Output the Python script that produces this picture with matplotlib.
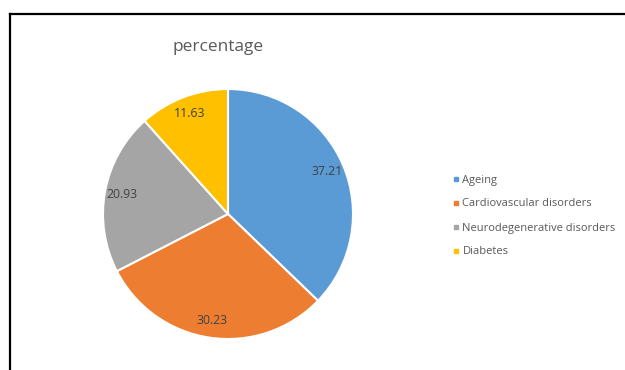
import matplotlib
matplotlib.use('Agg')
import numpy as np
import matplotlib.pyplot as plt
from matplotlib.lines import Line2D

categories = ['Ageing', 'Cardiovascular disorders',
              'Neurodegenerative disorders', 'Diabetes']
values = [37.21, 30.23, 20.93, 11.63]
colors = ['#5B9BD5', '#ED7D31', '#A5A5A5', '#FFC000']

plt.rcParams['font.family'] = ['Open Sans', 'DejaVu Sans']

dpi = 100.0
fig = plt.figure(figsize=(625 / dpi, 370 / dpi), dpi=dpi)

# frame line along the top and left of the chart area
fig.add_artist(Line2D([10 / 625, 1.0], [1 - 14 / 370, 1 - 14 / 370],
                      color='black', lw=1.6))
fig.add_artist(Line2D([10 / 625, 10 / 625], [0.0, 1 - 14 / 370],
                      color='black', lw=1.6))

ax = fig.add_axes([103 / 625, 31 / 370, 250 / 625, 250 / 370])
wedges, _ = ax.pie(values, colors=colors, startangle=90, counterclock=False,
                   radius=1.0,
                   wedgeprops=dict(edgecolor='white', linewidth=1.5))
ax.set_xlim(-1, 1)
ax.set_ylim(-1, 1)
ax.set_aspect('equal')
ax.axis('off')

# value labels inside each slice
for w, v in zip(wedges, values):
    ang = np.deg2rad((w.theta1 + w.theta2) / 2)
    ax.text(0.86 * np.cos(ang), 0.86 * np.sin(ang), f'{v:.2f}',
            ha='center', va='center', fontsize=8.8, color='#404040')

fig.text(218 / 625, 1 - 47 / 370, 'percentage', ha='center', va='center',
         fontsize=12.4, color='#595959')

handles = [Line2D([], [], marker='s', ls='', markersize=3.2, color=c)
           for c in colors]
leg = fig.legend(handles, categories, loc='center left',
                 bbox_to_anchor=(443 / 625, 1 - 216 / 370), frameon=False,
                 fontsize=8, handlelength=0.5, handletextpad=0.35,
                 labelspacing=1.17, labelcolor='#595959')

fig.savefig('out.png', dpi=dpi, facecolor='white')
